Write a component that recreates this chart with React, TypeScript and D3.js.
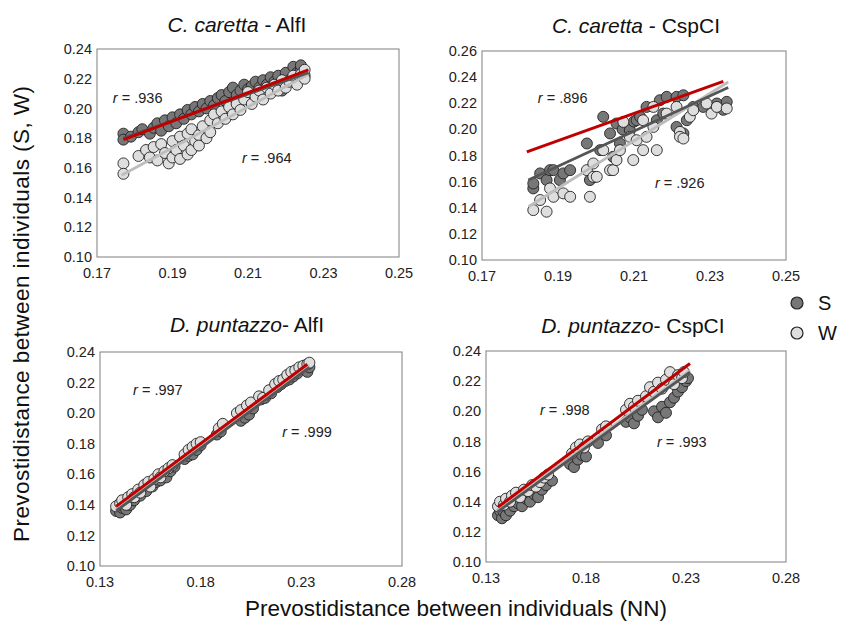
import React from "react";
import * as d3 from "d3";

type Pt = [number, number];

// ---------- data ----------
const panelTitlesItalic = ["C. caretta", "C. caretta", "D. puntazzo", "D. puntazzo"];
const panelTitlesRest = [" - AlfI", " - CspCI", "- AlfI", "- CspCI"];

const xTicksTop = [0.17, 0.19, 0.21, 0.23, 0.25];
const xTicksBottom = [0.13, 0.18, 0.23, 0.28];
const yTicks1 = [0.1, 0.12, 0.14, 0.16, 0.18, 0.2, 0.22, 0.24];
const yTicks2 = [0.1, 0.12, 0.14, 0.16, 0.18, 0.2, 0.22, 0.24, 0.26];

const rLabelsS = [".936", ".896", ".997", ".998"];
const rLabelsW = [".964", ".926", ".999", ".993"];

const p1S: Pt[] = [[0.177,0.183],[0.177,0.179],[0.179,0.181],[0.181,0.184],[0.182,0.186],[0.184,0.183],[0.185,0.187],[0.186,0.190],[0.187,0.185],[0.188,0.192],[0.189,0.188],[0.190,0.194],[0.191,0.190],[0.192,0.196],[0.193,0.193],[0.194,0.199],[0.195,0.196],[0.196,0.201],[0.197,0.198],[0.198,0.203],[0.199,0.200],[0.200,0.205],[0.201,0.202],[0.202,0.207],[0.203,0.209],[0.204,0.205],[0.205,0.211],[0.206,0.214],[0.207,0.209],[0.208,0.212],[0.209,0.216],[0.210,0.213],[0.211,0.215],[0.212,0.218],[0.213,0.214],[0.214,0.219],[0.215,0.216],[0.216,0.221],[0.217,0.218],[0.218,0.222],[0.219,0.212],[0.220,0.224],[0.221,0.219],[0.222,0.228],[0.223,0.224],[0.224,0.226],[0.225,0.222],[0.224,0.229]];
const p1W: Pt[] = [[0.177,0.163],[0.177,0.156],[0.181,0.168],[0.183,0.172],[0.184,0.167],[0.185,0.174],[0.186,0.165],[0.187,0.176],[0.188,0.170],[0.189,0.163],[0.190,0.178],[0.190,0.167],[0.191,0.172],[0.192,0.181],[0.192,0.166],[0.193,0.175],[0.194,0.183],[0.194,0.169],[0.195,0.186],[0.195,0.172],[0.196,0.178],[0.197,0.182],[0.197,0.175],[0.198,0.188],[0.199,0.180],[0.200,0.192],[0.200,0.184],[0.201,0.196],[0.202,0.190],[0.203,0.198],[0.204,0.193],[0.205,0.201],[0.206,0.196],[0.207,0.203],[0.208,0.199],[0.209,0.206],[0.210,0.211],[0.211,0.203],[0.212,0.208],[0.213,0.212],[0.214,0.206],[0.215,0.214],[0.216,0.210],[0.217,0.216],[0.218,0.212],[0.219,0.219],[0.220,0.214],[0.221,0.218],[0.222,0.222],[0.223,0.216],[0.224,0.223],[0.225,0.220],[0.225,0.226]];

const p2S: Pt[] = [[0.1835,0.1548],[0.1835,0.1586],[0.1853,0.1663],[0.1870,0.1612],[0.1879,0.1688],[0.1888,0.1688],[0.1905,0.1612],[0.1914,0.1663],[0.1932,0.1688],[0.1976,0.1892],[0.1984,0.1612],[0.1997,0.1637],[0.2011,0.1841],[0.2019,0.2096],[0.2037,0.1969],[0.2045,0.1790],[0.2054,0.2045],[0.2063,0.1892],[0.2070,0.2000],[0.2089,0.1994],[0.2100,0.2060],[0.2107,0.2070],[0.2116,0.2096],[0.2133,0.2172],[0.2160,0.2070],[0.2168,0.2223],[0.2177,0.2121],[0.2186,0.2249],[0.2212,0.2249],[0.2212,0.2019],[0.2230,0.2261],[0.2230,0.1969],[0.2239,0.2070],[0.2256,0.2172],[0.2282,0.2172],[0.2318,0.2198],[0.2344,0.2211],[0.2335,0.2150]];
const p2W: Pt[] = [[0.1835,0.1382],[0.1853,0.1459],[0.1870,0.1370],[0.1879,0.1548],[0.1888,0.1484],[0.1914,0.1510],[0.1932,0.1484],[0.1976,0.1688],[0.1984,0.1484],[0.1993,0.1739],[0.1993,0.1637],[0.2002,0.1637],[0.2019,0.1841],[0.2037,0.1688],[0.2045,0.1688],[0.2054,0.1765],[0.2063,0.1841],[0.2072,0.2057],[0.2089,0.1943],[0.2098,0.1765],[0.2107,0.1917],[0.2124,0.1841],[0.2124,0.2070],[0.2133,0.1943],[0.2151,0.2019],[0.2151,0.2172],[0.2160,0.1841],[0.2186,0.2121],[0.2212,0.2172],[0.2221,0.1981],[0.2221,0.1943],[0.2230,0.1930],[0.2247,0.2096],[0.2256,0.2147],[0.2291,0.2198],[0.2304,0.2121],[0.2318,0.2172],[0.2344,0.2160]];

const p3S: Pt[] = [[0.138,0.136],[0.139,0.139],[0.140,0.135],[0.141,0.138],[0.142,0.141],[0.143,0.137],[0.144,0.142],[0.145,0.140],[0.146,0.144],[0.147,0.143],[0.148,0.147],[0.150,0.146],[0.151,0.150],[0.153,0.149],[0.154,0.153],[0.156,0.152],[0.158,0.155],[0.160,0.156],[0.161,0.159],[0.163,0.158],[0.165,0.162],[0.167,0.165],[0.172,0.170],[0.174,0.172],[0.176,0.173],[0.178,0.176],[0.180,0.179],[0.188,0.186],[0.190,0.188],[0.200,0.195],[0.202,0.197],[0.204,0.199],[0.206,0.203],[0.210,0.209],[0.212,0.210],[0.215,0.213],[0.218,0.217],[0.220,0.219],[0.222,0.221],[0.224,0.222],[0.226,0.224],[0.228,0.226],[0.230,0.229],[0.232,0.231],[0.233,0.227],[0.234,0.230]];
const p3W: Pt[] = [[0.138,0.139],[0.140,0.141],[0.141,0.143],[0.143,0.140],[0.144,0.145],[0.146,0.147],[0.147,0.145],[0.149,0.150],[0.150,0.148],[0.152,0.153],[0.154,0.155],[0.155,0.152],[0.157,0.157],[0.159,0.160],[0.160,0.158],[0.162,0.162],[0.164,0.164],[0.166,0.166],[0.172,0.173],[0.174,0.176],[0.176,0.178],[0.178,0.180],[0.180,0.181],[0.189,0.190],[0.191,0.193],[0.198,0.200],[0.200,0.202],[0.203,0.205],[0.205,0.207],[0.209,0.211],[0.211,0.210],[0.214,0.215],[0.217,0.219],[0.219,0.221],[0.221,0.222],[0.223,0.225],[0.225,0.227],[0.227,0.228],[0.229,0.230],[0.231,0.231],[0.233,0.232],[0.234,0.233]];

const p4S: Pt[] = [[0.136,0.131],[0.137,0.134],[0.138,0.129],[0.139,0.133],[0.140,0.131],[0.141,0.136],[0.142,0.134],[0.144,0.137],[0.146,0.139],[0.148,0.137],[0.150,0.142],[0.152,0.140],[0.154,0.145],[0.156,0.143],[0.158,0.148],[0.160,0.151],[0.163,0.154],[0.172,0.165],[0.174,0.163],[0.176,0.168],[0.178,0.171],[0.180,0.170],[0.186,0.179],[0.190,0.184],[0.200,0.193],[0.202,0.196],[0.204,0.192],[0.206,0.197],[0.208,0.201],[0.214,0.200],[0.216,0.196],[0.218,0.203],[0.220,0.199],[0.222,0.206],[0.224,0.209],[0.226,0.213],[0.228,0.216],[0.230,0.220],[0.231,0.222]];
const p4W: Pt[] = [[0.136,0.137],[0.137,0.140],[0.139,0.138],[0.140,0.142],[0.142,0.140],[0.143,0.144],[0.145,0.146],[0.147,0.143],[0.149,0.148],[0.151,0.147],[0.153,0.151],[0.155,0.150],[0.157,0.153],[0.159,0.156],[0.161,0.158],[0.173,0.172],[0.175,0.176],[0.177,0.178],[0.179,0.176],[0.181,0.180],[0.188,0.188],[0.190,0.190],[0.200,0.201],[0.202,0.205],[0.204,0.203],[0.206,0.207],[0.210,0.210],[0.212,0.216],[0.214,0.213],[0.216,0.219],[0.218,0.215],[0.220,0.221],[0.222,0.226],[0.224,0.218],[0.226,0.224],[0.228,0.222],[0.229,0.226]];

// fitted lines (end points)
const p1Lines = { red: [[0.177,0.179],[0.226,0.226]] as Pt[], s: [[0.177,0.180],[0.226,0.224]] as Pt[], w: [[0.1765,0.155],[0.226,0.223]] as Pt[] };
const p2Lines = { red: [[0.1818,0.1828],[0.2335,0.2368]] as Pt[], s: [[0.1822,0.1612],[0.2348,0.232]] as Pt[], w: [[0.1822,0.1408],[0.2348,0.2363]] as Pt[] };
const p3Lines = { red: [[0.138,0.139],[0.233,0.232]] as Pt[], s: [[0.138,0.136],[0.234,0.230]] as Pt[], w: [[0.138,0.137],[0.234,0.231]] as Pt[] };
const p4Lines = { red: [[0.136,0.1365],[0.232,0.2317]] as Pt[], s: [[0.1355,0.133],[0.232,0.226]] as Pt[], w: [[0.1353,0.1343],[0.232,0.2272]] as Pt[] };

// r-label anchor points in data units
const rPosS: Pt[] = [[0.1742,0.2037],[0.1847,0.220],[0.1464,0.212],[0.157,0.1973]];
const rPosW: Pt[] = [[0.2084,0.1633],[0.2155,0.155],[0.2205,0.1845],[0.2155,0.1761]];

// ---------- layout ----------
const FONT = "'Liberation Sans', Arial, Helvetica, sans-serif";
const S_FILL = "#777777";
const W_FILL = "#dedede";

interface PanelCfg {
  box: { x0: number; x1: number; y0: number; y1: number };
  xd: [number, number];
  yd: [number, number];
  xt: number[];
  yt: number[];
  s: Pt[];
  w: Pt[];
  lines: { red: Pt[]; s: Pt[]; w: Pt[] };
  titleX: number;
  titleY: number;
}

const panels: PanelCfg[] = [
  { box: { x0: 97, x1: 399, y0: 49, y1: 257 }, xd: [0.17, 0.25], yd: [0.1, 0.24], xt: xTicksTop, yt: yTicks1, s: p1S, w: p1W, lines: p1Lines, titleX: 237, titleY: 32 },
  { box: { x0: 482, x1: 786, y0: 51, y1: 260 }, xd: [0.17, 0.25], yd: [0.1, 0.26], xt: xTicksTop, yt: yTicks2, s: p2S, w: p2W, lines: p2Lines, titleX: 636, titleY: 33 },
  { box: { x0: 100, x1: 402, y0: 352, y1: 566 }, xd: [0.13, 0.28], yd: [0.1, 0.24], xt: xTicksBottom, yt: yTicks1, s: p3S, w: p3W, lines: p3Lines, titleX: 247, titleY: 332 },
  { box: { x0: 486, x1: 786, y0: 351, y1: 562 }, xd: [0.13, 0.28], yd: [0.1, 0.24], xt: xTicksBottom, yt: yTicks1, s: p4S, w: p4W, lines: p4Lines, titleX: 633, titleY: 333 },
];

function Panel({ cfg, i }: { cfg: PanelCfg; i: number }) {
  const { box } = cfg;
  const x = d3.scaleLinear().domain(cfg.xd).range([box.x0, box.x1]);
  const y = d3.scaleLinear().domain(cfg.yd).range([box.y1, box.y0]);
  const line = d3.line<Pt>().x((d) => x(d[0])).y((d) => y(d[1]));
  const fmt = d3.format(".2f");
  return (
    <g>
      <rect x={box.x0} y={box.y0} width={box.x1 - box.x0} height={box.y1 - box.y0} fill="#fff" stroke="#7f7f7f" strokeWidth={1} />
      {cfg.yt.map((t) => (
        <text key={"y" + t} x={box.x0 - 5} y={y(t)} dy="0.35em" textAnchor="end" fontSize={14.5} fontFamily={FONT} fill="#222">
          {fmt(t)}
        </text>
      ))}
      {cfg.xt.map((t) => (
        <text key={"x" + t} x={x(t)} y={box.y1 + 21} textAnchor="middle" fontSize={14.5} fontFamily={FONT} fill="#222">
          {fmt(t)}
        </text>
      ))}
      <text x={cfg.titleX} y={cfg.titleY} textAnchor="middle" fontSize={21} fontFamily={FONT} fill="#111">
        <tspan fontStyle="italic">{panelTitlesItalic[i]}</tspan>
        <tspan>{panelTitlesRest[i]}</tspan>
      </text>
      {cfg.s.map((d, k) => (
        <circle key={"s" + k} cx={x(d[0])} cy={y(d[1])} r={5.5} fill={S_FILL} stroke="#222" strokeWidth={0.9} />
      ))}
      {cfg.w.map((d, k) => (
        <circle key={"w" + k} cx={x(d[0])} cy={y(d[1])} r={5.5} fill={W_FILL} stroke="#222" strokeWidth={0.9} />
      ))}
      <path d={line(cfg.lines.w) || ""} stroke="#bdbdbd" strokeWidth={2.8} fill="none" />
      <path d={line(cfg.lines.s) || ""} stroke="#555555" strokeWidth={2.8} fill="none" />
      <path d={line(cfg.lines.red) || ""} stroke="#c00000" strokeWidth={3} fill="none" />
      <text x={x(rPosS[i][0])} y={y(rPosS[i][1])} fontSize={14.5} fontFamily={FONT} fill="#222">
        <tspan fontStyle="italic">r</tspan>
        <tspan> = {rLabelsS[i]}</tspan>
      </text>
      <text x={x(rPosW[i][0])} y={y(rPosW[i][1])} fontSize={14.5} fontFamily={FONT} fill="#222">
        <tspan fontStyle="italic">r</tspan>
        <tspan> = {rLabelsW[i]}</tspan>
      </text>
    </g>
  );
}

const legendKeys = ["S", "W"];
const legendFills = [S_FILL, W_FILL];

export default function App() {
  return (
    <svg width={845} height={630} style={{ position: "absolute", left: 0, top: 0, background: "#fff" }}>
      <rect width={845} height={630} fill="#fff" />
      {panels.map((p, i) => (
        <Panel key={i} cfg={p} i={i} />
      ))}
      {legendKeys.map((k, i) => (
        <g key={k}>
          <circle cx={797} cy={303 + i * 30} r={6} fill={legendFills[i]} stroke="#222" strokeWidth={1.2} />
          <text x={818} y={303 + i * 30} dy="0.36em" fontSize={20} fontFamily={FONT} fill="#111">
            {k}
          </text>
        </g>
      ))}
      <text
        transform="translate(29,314) rotate(-90)"
        textAnchor="middle"
        fontSize={22.5}
        fontFamily={FONT}
        fill="#111"
        textLength={456}
        lengthAdjust="spacing"
      >
        Prevostidistance between individuals (S, W)
      </text>
      <text x={456} y={616} textAnchor="middle" fontSize={22.5} fontFamily={FONT} fill="#111" textLength={422} lengthAdjust="spacing">
        Prevostidistance between individuals (NN)
      </text>
    </svg>
  );
}
